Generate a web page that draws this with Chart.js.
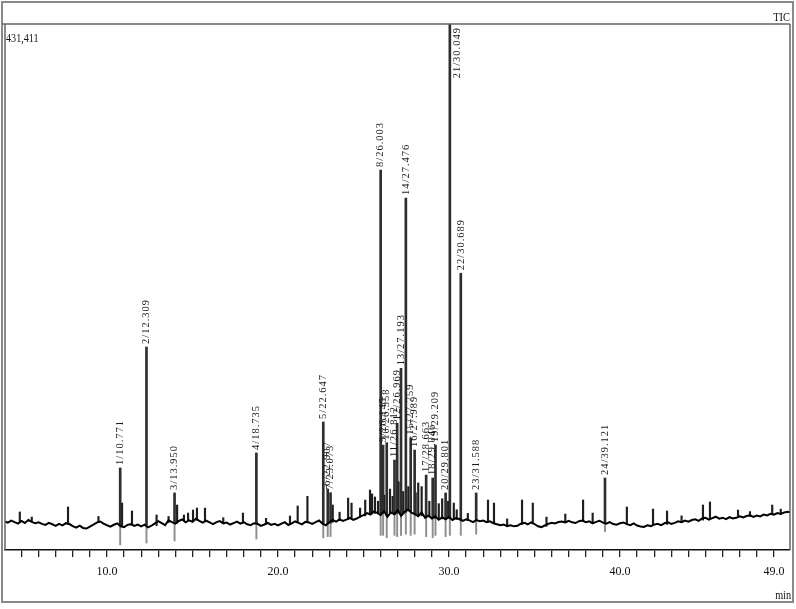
<!DOCTYPE html>
<html>
<head>
<meta charset="utf-8">
<script src="https://cdn.jsdelivr.net/npm/chart.js@4.4.1/dist/chart.umd.min.js"></script>
<style>
html,body{margin:0;padding:0;background:#fff;}
canvas{display:block;}
</style>
</head>
<body>
<canvas id="c" width="796" height="609"></canvas>
<script>
// ---- DATA (intensity in thousands of counts, time in minutes) ----
const yMaxText = '431,411';
const yMax = 431.411;
const traceStart = 4.0;
const traceStep = 0.2;
const traceValues = [
  23.5, 22.4, 24.1, 22.8, 21.6, 23.9, 22.2, 24.6, 23.1, 21.9,
  22.7, 21.4, 20.6, 22.3, 21.1, 19.8, 21.5, 20.2, 22.0, 21.3,
  19.6, 18.4, 19.9, 18.1, 17.6, 19.2, 20.8, 22.5, 23.4, 21.7,
  20.3, 19.1, 20.7, 21.9, 19.5, 18.8, 20.6, 21.2, 19.7, 20.9,
  19.4, 20.8, 18.6, 19.9, 21.8, 23.6, 22.1, 20.4, 24.3, 22.9,
  21.6, 23.8, 25.1, 22.7, 24.4, 23.2, 25.6, 23.9, 22.4, 24.0,
  22.6, 21.2, 22.9, 23.7, 21.8, 22.5, 20.9, 22.1, 23.3, 21.6,
  22.8, 21.1, 20.4, 22.0, 21.5, 19.8, 20.9, 22.3, 20.6, 21.4,
  20.1, 21.7, 22.8, 20.5, 21.9, 23.4, 22.2, 21.0, 23.1, 22.6,
  21.4, 22.9, 24.2, 21.7, 20.3, 22.8, 24.6, 23.3, 25.1, 23.8,
  24.9, 26.3, 24.7, 25.8, 27.4, 28.6, 30.2, 29.1, 31.5, 30.4,
  28.7, 31.9, 27.3, 30.8, 29.4, 32.6, 28.1, 31.2, 33.4, 30.7,
  29.5, 27.8, 30.9, 26.4, 28.3, 25.9, 27.6, 24.8, 26.9, 25.2,
  27.1, 24.6, 26.2, 25.4, 23.8, 25.1, 24.3, 22.9, 24.5, 23.6,
  24.2, 22.8, 23.5, 21.9, 21.1, 20.3, 20.8, 19.6, 20.2, 19.4,
  19.9, 21.6, 22.4, 21.1, 22.7, 21.3, 19.5, 18.8, 20.1, 21.4,
  22.3, 21.8, 22.9, 23.4, 22.6, 23.9, 22.7, 22.1, 23.6, 24.2,
  22.8, 23.5, 21.9, 23.1, 24.0, 22.4, 21.6, 22.9, 21.3, 20.7,
  21.9, 22.6, 21.2, 20.4, 21.8, 20.1, 19.3, 18.9, 20.2, 19.6,
  20.8, 21.5, 20.3, 21.9, 22.7, 21.4, 22.2, 23.5, 22.8, 24.1,
  23.3, 24.6, 25.2, 23.9, 25.8, 26.4, 24.9, 26.1, 27.3, 25.7,
  26.5, 25.3, 26.9, 25.8, 26.4, 27.6, 26.8, 27.9, 28.5, 27.2,
  28.3, 27.6, 29.1, 28.4, 29.7, 28.9, 30.3, 29.6, 30.8, 31.4,
  31.0
];

const peakLabels = ['1/10.771','2/12.309','3/13.950','4/18.735','5/22.647','6/22.907','7/23.073','8/26.003','9/26.145','10/26.358','11/26.812','12/26.969','13/27.193','14/27.476','15/27.759','16/27.989','17/28.663','18/29.046','19/29.209','20/29.801','21/30.049','22/30.689','23/31.588','24/39.121'];
const peakTimes  = [10.771,12.309,13.950,18.735,22.647,22.907,23.073,26.003,26.145,26.358,26.812,26.969,27.193,27.476,27.759,27.989,28.663,29.046,29.209,29.801,30.049,30.689,31.588,39.121];
const peakHeights= [67.3,166.5,46.8,79.6,105.0,50.0,47.0,311.7,86.0,88.0,73.8,104.0,149.0,288.7,92.0,82.0,61.5,59.1,86.1,46.8,431.4,227.0,46.8,59.1];
const peakFeet   = [20.0,20.5,22.5,21.5,22.0,21.5,22.0,28.7,30.0,28.5,29.0,30.0,29.0,31.0,32.0,30.0,27.0,26.5,26.0,25.5,26.0,24.5,24.0,22.0];
const markerLows = [4.1,5.7,7.4,9.0,10.0,11.0,11.0,12.0,12.0,10.0,12.0,11.0,12.0,13.0,12.0,13.0,11.0,10.0,12.0,11.0,12.0,12.0,13.0,15.0];

const minorTimes  = [4.9,5.6,7.72,9.5,10.88,11.46,12.9,13.6,14.1,14.5,14.74,15.03,15.26,15.73,16.8,17.95,19.3,20.7,21.15,21.72,23.2,23.6,24.1,24.3,24.8,25.1,25.38,25.5,25.67,25.85,26.22,26.55,26.7,27.05,27.32,27.62,28.05,28.2,28.4,28.85,29.4,29.6,29.95,30.28,30.45,31.1,32.28,32.63,33.4,34.27,34.9,35.7,36.8,37.84,38.4,40.4,41.93,42.75,43.6,44.85,45.26,46.9,47.6,48.9,49.4];
const minorHeights= [31.2,27.0,35.3,27.5,38.5,32.0,28.7,27.5,36.9,28.7,30.3,32.8,34.4,34.4,26.5,30.3,26.0,27.9,36.1,44.0,36.9,31.0,42.6,38.5,34.4,41.0,49.2,46.0,43.5,40.0,45.0,50.0,44.0,56.0,48.0,52.0,47.0,55.0,52.0,40.0,38.0,42.0,40.0,38.5,33.0,30.0,41.0,38.5,25.5,41.0,38.5,27.0,29.5,41.0,30.3,35.3,33.6,32.0,28.0,36.9,39.4,32.8,31.5,36.9,33.5];
const minorFeet   = [23.0,23.5,21.0,22.5,20.0,20.5,20.0,22.5,22.0,24.0,24.0,24.0,24.5,23.5,22.5,22.0,21.0,21.5,22.5,22.5,22.8,24.0,25.0,25.5,27.0,28.0,29.0,29.5,30.0,30.0,31.0,30.0,30.0,31.0,30.0,32.0,29.0,28.5,28.0,27.0,26.0,25.5,26.0,25.0,25.0,24.0,23.0,22.0,20.5,21.0,21.5,19.5,22.5,23.5,23.0,21.5,20.5,21.0,22.5,24.5,25.5,26.5,27.5,29.0,29.5];

const xTickValues = [10,20,30,40,49];
const xTickLabels = ['10.0','20.0','30.0','40.0','49.0'];
const xMinorTicks = [5,6,7,8,9,10,11,12,13,14,15,16,17,18,19,20,21,22,23,24,25,26,27,28,29,30,31,32,33,34,35,36,37,38,39,40,41,42,43,44,45,46,47,48,49];
const xMin = 4.035, xMax = 49.94;

// ---- build datasets ----
const traceData = traceValues.map((v, i) => ({x: +(traceStart + i * traceStep).toFixed(2), y: v}));
const peakData = peakTimes.map((t, i) => ({x: t, y: [peakFeet[i], peakHeights[i]]}));
const minorData = minorTimes.map((t, i) => ({x: t, y: [minorFeet[i], minorHeights[i]]}));
const markerData = peakTimes.map((t, i) => ({x: t, y: [markerLows[i], peakFeet[i]]}));

const serif = '"Liberation Serif", "DejaVu Serif", serif';

const decor = {
  id: 'decor',
  afterDatasetsDraw(chart) {
    const ctx = chart.ctx, xs = chart.scales.x, ys = chart.scales.y, ca = chart.chartArea;
    ctx.save();
    ctx.fillStyle = '#1a1a1a';
    ctx.font = '10.5px ' + serif;
    if ('letterSpacing' in ctx) ctx.letterSpacing = '1px';
    peakLabels.forEach((lab, i) => {
      const x = xs.getPixelForValue(peakTimes[i]);
      const yt = ys.getPixelForValue(peakHeights[i]);
      const w = ctx.measureText(lab).width;
      let px = x, py = yt - 3;
      if (py - w < ca.top + 1) { px = x + 7; py = ca.top + 3 + w; }
      ctx.save();
      ctx.translate(px, py);
      ctx.rotate(-Math.PI / 2);
      ctx.textAlign = 'left';
      ctx.textBaseline = 'middle';
      ctx.fillText(lab, 0, 0);
      ctx.restore();
    });
    ctx.restore();
  },
  afterDraw(chart) {
    const ctx = chart.ctx, ca = chart.chartArea;
    ctx.save();
    ctx.strokeStyle = '#8a8a8a';
    ctx.lineWidth = 2;
    ctx.strokeRect(2, 2, 791, 600);
    ctx.strokeStyle = '#666';
    ctx.lineWidth = 1.5;
    ctx.beginPath();
    ctx.moveTo(2, ca.top); ctx.lineTo(ca.right, ca.top);
    ctx.moveTo(ca.left, ca.top); ctx.lineTo(ca.left, ca.bottom);
    ctx.moveTo(ca.right, ca.top); ctx.lineTo(ca.right, ca.bottom);
    ctx.stroke();
    ctx.fillStyle = '#111';
    ctx.textBaseline = 'alphabetic';
    ctx.font = '13px ' + serif;
    ctx.save();
    ctx.translate(ca.left + 1, 42);
    ctx.scale(0.78, 1);
    ctx.textAlign = 'left';
    ctx.fillText(yMaxText, 0, 0);
    ctx.restore();
    ctx.save();
    ctx.translate(790, 21);
    ctx.scale(0.8, 1);
    ctx.textAlign = 'right';
    ctx.fillText('TIC', 0, 0);
    ctx.restore();
    ctx.font = '12px ' + serif;
    ctx.save();
    ctx.translate(791, 599);
    ctx.scale(0.85, 1);
    ctx.textAlign = 'right';
    ctx.fillText('min', 0, 0);
    ctx.restore();
    ctx.restore();
  }
};

new Chart(document.getElementById('c'), {
  type: 'bar',
  data: {
    datasets: [
      {
        type: 'line', data: traceData, borderColor: '#000', borderWidth: 2,
        pointRadius: 0, tension: 0, fill: false, order: 0
      },
      {
        type: 'bar', data: peakData, backgroundColor: '#2e2e2e', borderWidth: 0,
        barThickness: 2, grouped: false, order: 1
      },
      {
        type: 'bar', data: minorData, backgroundColor: '#1e1e1e', borderWidth: 0,
        barThickness: 1.5, grouped: false, order: 1
      },
      {
        type: 'bar', data: markerData, backgroundColor: '#8f8f8f', borderWidth: 0,
        barThickness: 1.3, grouped: false, order: 2
      }
    ]
  },
  options: {
    responsive: false,
    devicePixelRatio: 1,
    animation: false,
    layout: {padding: {left: 5, right: 6, top: 24, bottom: 0}},
    plugins: {legend: {display: false}, tooltip: {enabled: false}, title: {display: false}},
    scales: {
      x: {
        type: 'linear', min: xMin, max: xMax, offset: false,
        afterBuildTicks: (s) => { s.ticks = xMinorTicks.map(v => ({value: v})); },
        afterFit: (s) => { s.height = 59; },
        grid: {drawOnChartArea: false, drawTicks: true, tickLength: 7, color: '#222', lineWidth: 1.3, offset: false},
        border: {display: true, color: '#111', width: 1.5},
        ticks: {
          autoSkip: false, maxRotation: 0, minRotation: 0, padding: 8, color: '#111',
          font: {family: serif, size: 12},
          callback: (v) => { const k = xTickValues.indexOf(v); return k >= 0 ? xTickLabels[k] : ''; }
        }
      },
      y: {
        type: 'linear', min: 0, max: yMax, display: false
      }
    }
  },
  plugins: [decor]
});
</script>
</body>
</html>
